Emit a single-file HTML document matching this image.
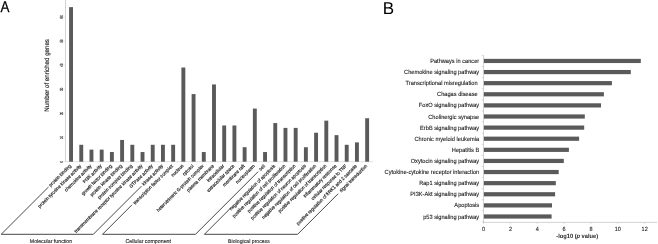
<!DOCTYPE html><html><head><meta charset="utf-8"><style>html,body{margin:0;padding:0;background:#fff;}svg{display:block;filter:grayscale(1);}text{font-family:"Liberation Sans",sans-serif;text-rendering:geometricPrecision;}</style></head><body>
<svg width="658" height="244" viewBox="0 0 658 244">
<defs><filter id="bl" x="-5%" y="-5%" width="110%" height="110%"><feGaussianBlur stdDeviation="0.28"/></filter></defs>
<rect width="658" height="244" fill="#fff"/>
<text transform="translate(0.55,11.50) scale(0.86,1.0)" text-anchor="start" font-size="15.6" fill="#000" stroke="#000" stroke-width="0.25">A</text>
<line x1="65.5" y1="0" x2="65.5" y2="161.7" stroke="#c8c8c8" stroke-width="0.8"/>
<line x1="65.5" y1="161.7" x2="373" y2="161.7" stroke="#d6d6d6" stroke-width="0.7"/>
<text transform="translate(62.50,161.70) rotate(-90) scale(0.8,1.25)" text-anchor="middle" font-size="3.6" fill="#333" stroke="#333" stroke-width="0.15">0</text>
<line x1="63.6" y1="161.70" x2="65.5" y2="161.70" stroke="#ddd" stroke-width="0.6"/>
<text transform="translate(62.50,137.55) rotate(-90) scale(0.8,1.25)" text-anchor="middle" font-size="3.6" fill="#333" stroke="#333" stroke-width="0.15">10</text>
<line x1="63.6" y1="137.55" x2="65.5" y2="137.55" stroke="#ddd" stroke-width="0.6"/>
<text transform="translate(62.50,113.40) rotate(-90) scale(0.8,1.25)" text-anchor="middle" font-size="3.6" fill="#333" stroke="#333" stroke-width="0.15">20</text>
<line x1="63.6" y1="113.40" x2="65.5" y2="113.40" stroke="#ddd" stroke-width="0.6"/>
<text transform="translate(62.50,89.25) rotate(-90) scale(0.8,1.25)" text-anchor="middle" font-size="3.6" fill="#333" stroke="#333" stroke-width="0.15">30</text>
<line x1="63.6" y1="89.25" x2="65.5" y2="89.25" stroke="#ddd" stroke-width="0.6"/>
<text transform="translate(62.50,65.10) rotate(-90) scale(0.8,1.25)" text-anchor="middle" font-size="3.6" fill="#333" stroke="#333" stroke-width="0.15">40</text>
<line x1="63.6" y1="65.10" x2="65.5" y2="65.10" stroke="#ddd" stroke-width="0.6"/>
<text transform="translate(62.50,40.95) rotate(-90) scale(0.8,1.25)" text-anchor="middle" font-size="3.6" fill="#333" stroke="#333" stroke-width="0.15">50</text>
<line x1="63.6" y1="40.95" x2="65.5" y2="40.95" stroke="#ddd" stroke-width="0.6"/>
<text transform="translate(62.50,16.80) rotate(-90) scale(0.8,1.25)" text-anchor="middle" font-size="3.6" fill="#333" stroke="#333" stroke-width="0.15">60</text>
<line x1="63.6" y1="16.80" x2="65.5" y2="16.80" stroke="#ddd" stroke-width="0.6"/>
<text transform="translate(49.20,75.35) rotate(-90) scale(1.0,1.06)" text-anchor="middle" font-size="6.17" fill="#1a1a1a" stroke="#1a1a1a" stroke-width="0.14">Number of enriched genes</text>
<rect x="69.10" y="7.14" width="3.9" height="154.56" fill="#5a5a5a"/>
<rect x="79.31" y="144.79" width="3.9" height="16.91" fill="#5a5a5a"/>
<rect x="89.52" y="149.62" width="3.9" height="12.07" fill="#5a5a5a"/>
<rect x="99.73" y="149.62" width="3.9" height="12.07" fill="#5a5a5a"/>
<rect x="109.94" y="152.04" width="3.9" height="9.66" fill="#5a5a5a"/>
<rect x="120.15" y="139.96" width="3.9" height="21.73" fill="#5a5a5a"/>
<rect x="130.36" y="144.79" width="3.9" height="16.91" fill="#5a5a5a"/>
<rect x="140.57" y="152.04" width="3.9" height="9.66" fill="#5a5a5a"/>
<rect x="150.78" y="144.79" width="3.9" height="16.91" fill="#5a5a5a"/>
<rect x="160.99" y="144.79" width="3.9" height="16.91" fill="#5a5a5a"/>
<rect x="171.20" y="144.79" width="3.9" height="16.91" fill="#5a5a5a"/>
<rect x="181.41" y="67.51" width="3.9" height="94.19" fill="#5a5a5a"/>
<rect x="191.62" y="94.08" width="3.9" height="67.62" fill="#5a5a5a"/>
<rect x="201.83" y="152.04" width="3.9" height="9.66" fill="#5a5a5a"/>
<rect x="212.04" y="84.42" width="3.9" height="77.28" fill="#5a5a5a"/>
<rect x="222.25" y="125.47" width="3.9" height="36.23" fill="#5a5a5a"/>
<rect x="232.46" y="125.47" width="3.9" height="36.23" fill="#5a5a5a"/>
<rect x="242.67" y="147.21" width="3.9" height="14.49" fill="#5a5a5a"/>
<rect x="252.88" y="108.57" width="3.9" height="53.13" fill="#5a5a5a"/>
<rect x="263.09" y="152.04" width="3.9" height="9.66" fill="#5a5a5a"/>
<rect x="273.30" y="123.06" width="3.9" height="38.64" fill="#5a5a5a"/>
<rect x="283.51" y="127.89" width="3.9" height="33.81" fill="#5a5a5a"/>
<rect x="293.72" y="127.89" width="3.9" height="33.81" fill="#5a5a5a"/>
<rect x="303.93" y="147.21" width="3.9" height="14.49" fill="#5a5a5a"/>
<rect x="314.14" y="132.72" width="3.9" height="28.98" fill="#5a5a5a"/>
<rect x="324.35" y="120.64" width="3.9" height="41.05" fill="#5a5a5a"/>
<rect x="334.56" y="135.13" width="3.9" height="26.57" fill="#5a5a5a"/>
<rect x="344.77" y="144.79" width="3.9" height="16.91" fill="#5a5a5a"/>
<rect x="354.98" y="142.38" width="3.9" height="19.32" fill="#5a5a5a"/>
<rect x="365.19" y="118.23" width="3.9" height="43.47" fill="#5a5a5a"/>
<g filter="url(#bl)">
<text transform="translate(71.45,166.30) rotate(-45) scale(1.0,1.08)" text-anchor="end" font-size="4.45" fill="#222" stroke="#222" stroke-width="0.16">protein binding</text>
<text transform="translate(81.66,166.30) rotate(-45) scale(1.0,1.08)" text-anchor="end" font-size="4.45" fill="#222" stroke="#222" stroke-width="0.16">protein tyrosine kinase activity</text>
<text transform="translate(91.87,166.30) rotate(-45) scale(1.0,1.08)" text-anchor="end" font-size="4.45" fill="#222" stroke="#222" stroke-width="0.16">chemokine activity</text>
<text transform="translate(102.08,166.30) rotate(-45) scale(1.0,1.08)" text-anchor="end" font-size="4.45" fill="#222" stroke="#222" stroke-width="0.16">PI3K activity</text>
<text transform="translate(112.29,166.30) rotate(-45) scale(1.0,1.08)" text-anchor="end" font-size="4.45" fill="#222" stroke="#222" stroke-width="0.16">growth factor binding</text>
<text transform="translate(122.50,166.30) rotate(-45) scale(1.0,1.08)" text-anchor="end" font-size="4.45" fill="#222" stroke="#222" stroke-width="0.16">protein kinase binding</text>
<text transform="translate(132.71,166.30) rotate(-45) scale(1.0,1.08)" text-anchor="end" font-size="4.45" fill="#222" stroke="#222" stroke-width="0.16">protein complex binding</text>
<text transform="translate(142.92,166.30) rotate(-45) scale(1.0,1.08)" text-anchor="end" font-size="4.45" fill="#222" stroke="#222" stroke-width="0.16">transmembrane receptor tyrosine kinase activity</text>
<text transform="translate(153.13,166.30) rotate(-45) scale(1.0,1.08)" text-anchor="end" font-size="4.45" fill="#222" stroke="#222" stroke-width="0.16">GTPase activity</text>
<text transform="translate(163.34,166.30) rotate(-45) scale(1.0,1.08)" text-anchor="end" font-size="4.45" fill="#222" stroke="#222" stroke-width="0.16">kinase activity</text>
<text transform="translate(173.55,166.30) rotate(-45) scale(1.0,1.08)" text-anchor="end" font-size="4.45" fill="#222" stroke="#222" stroke-width="0.16">transcription factor complex</text>
<text transform="translate(183.76,166.30) rotate(-45) scale(1.0,1.08)" text-anchor="end" font-size="4.45" fill="#222" stroke="#222" stroke-width="0.16">nucleus</text>
<text transform="translate(193.97,166.30) rotate(-45) scale(1.0,1.08)" text-anchor="end" font-size="4.45" fill="#222" stroke="#222" stroke-width="0.16">cytosol</text>
<text transform="translate(204.18,166.30) rotate(-45) scale(1.0,1.08)" text-anchor="end" font-size="4.45" fill="#222" stroke="#222" stroke-width="0.16">heterotrimeric G-protein complex</text>
<text transform="translate(214.39,166.30) rotate(-45) scale(1.0,1.08)" text-anchor="end" font-size="4.45" fill="#222" stroke="#222" stroke-width="0.16">plasma membrane</text>
<text transform="translate(224.60,166.30) rotate(-45) scale(1.0,1.08)" text-anchor="end" font-size="4.45" fill="#222" stroke="#222" stroke-width="0.16">intracellular</text>
<text transform="translate(234.81,166.30) rotate(-45) scale(1.0,1.08)" text-anchor="end" font-size="4.45" fill="#222" stroke="#222" stroke-width="0.16">extracellular space</text>
<text transform="translate(245.02,166.30) rotate(-45) scale(1.0,1.08)" text-anchor="end" font-size="4.45" fill="#222" stroke="#222" stroke-width="0.16">membrane raft</text>
<text transform="translate(255.23,166.30) rotate(-45) scale(1.0,1.08)" text-anchor="end" font-size="4.45" fill="#222" stroke="#222" stroke-width="0.16">nucleoplasm</text>
<text transform="translate(265.44,166.30) rotate(-45) scale(1.0,1.08)" text-anchor="end" font-size="4.45" fill="#222" stroke="#222" stroke-width="0.16">cell</text>
<text transform="translate(275.65,166.30) rotate(-45) scale(1.0,1.08)" text-anchor="end" font-size="4.45" fill="#222" stroke="#222" stroke-width="0.16">negative regulation of apoptosis</text>
<text transform="translate(285.86,166.30) rotate(-45) scale(1.0,1.08)" text-anchor="end" font-size="4.45" fill="#222" stroke="#222" stroke-width="0.16">positive regulation of cell proliferation</text>
<text transform="translate(296.07,166.30) rotate(-45) scale(1.0,1.08)" text-anchor="end" font-size="4.45" fill="#222" stroke="#222" stroke-width="0.16">positive regulation of transcription</text>
<text transform="translate(306.28,166.30) rotate(-45) scale(1.0,1.08)" text-anchor="end" font-size="4.45" fill="#222" stroke="#222" stroke-width="0.16">positive regulation of neuron apoptosis</text>
<text transform="translate(316.49,166.30) rotate(-45) scale(1.0,1.08)" text-anchor="end" font-size="4.45" fill="#222" stroke="#222" stroke-width="0.16">negative regulation of cell proliferation</text>
<text transform="translate(326.70,166.30) rotate(-45) scale(1.0,1.08)" text-anchor="end" font-size="4.45" fill="#222" stroke="#222" stroke-width="0.16">positive regulation of transcription</text>
<text transform="translate(336.91,166.30) rotate(-45) scale(1.0,1.08)" text-anchor="end" font-size="4.45" fill="#222" stroke="#222" stroke-width="0.16">inflammatory response</text>
<text transform="translate(347.12,166.30) rotate(-45) scale(1.0,1.08)" text-anchor="end" font-size="4.45" fill="#222" stroke="#222" stroke-width="0.16">cellular response to TNF</text>
<text transform="translate(357.33,166.30) rotate(-45) scale(1.0,1.08)" text-anchor="end" font-size="4.45" fill="#222" stroke="#222" stroke-width="0.16">positive regulation of ERK1 and 2 cascade</text>
<text transform="translate(367.54,166.30) rotate(-45) scale(1.0,1.08)" text-anchor="end" font-size="4.45" fill="#222" stroke="#222" stroke-width="0.16">signal transduction</text>
</g>
<polyline points="48.50,187.00 1.20,234.3 93.30,234.3 141.50,186.10" fill="none" stroke="#333333" stroke-width="0.9"/>
<polyline points="132.00,204.80 102.50,234.3 195.50,234.3 258.20,171.60" fill="none" stroke="#333333" stroke-width="0.9"/>
<polyline points="231.20,207.50 204.40,234.3 297.60,234.3 338.20,193.70" fill="none" stroke="#333333" stroke-width="0.9"/>
<text transform="translate(29.80,242.70) scale(1.0,1.06)" text-anchor="start" font-size="5.22" fill="#1a1a1a" stroke="#1a1a1a" stroke-width="0.1">Molecular function</text>
<text transform="translate(125.50,242.70) scale(1.0,1.06)" text-anchor="start" font-size="5.29" fill="#1a1a1a" stroke="#1a1a1a" stroke-width="0.1">Cellular component</text>
<text transform="translate(228.10,242.70) scale(1.0,1.06)" text-anchor="start" font-size="5.19" fill="#1a1a1a" stroke="#1a1a1a" stroke-width="0.1">Biological process</text>
<text transform="translate(382.80,13.80)" text-anchor="start" font-size="17.0" fill="#000" >B</text>
<line x1="483.5" y1="55.5" x2="483.5" y2="223.5" stroke="#c8c8c8" stroke-width="0.8"/>
<line x1="483.5" y1="222.4" x2="657" y2="222.4" stroke="#c8c8c8" stroke-width="0.8"/>
<line x1="481.8" y1="55.40" x2="483.5" y2="55.40" stroke="#c8c8c8" stroke-width="0.8"/>
<line x1="481.8" y1="66.50" x2="483.5" y2="66.50" stroke="#c8c8c8" stroke-width="0.8"/>
<line x1="481.8" y1="77.62" x2="483.5" y2="77.62" stroke="#c8c8c8" stroke-width="0.8"/>
<line x1="481.8" y1="88.72" x2="483.5" y2="88.72" stroke="#c8c8c8" stroke-width="0.8"/>
<line x1="481.8" y1="99.84" x2="483.5" y2="99.84" stroke="#c8c8c8" stroke-width="0.8"/>
<line x1="481.8" y1="110.94" x2="483.5" y2="110.94" stroke="#c8c8c8" stroke-width="0.8"/>
<line x1="481.8" y1="122.06" x2="483.5" y2="122.06" stroke="#c8c8c8" stroke-width="0.8"/>
<line x1="481.8" y1="133.16" x2="483.5" y2="133.16" stroke="#c8c8c8" stroke-width="0.8"/>
<line x1="481.8" y1="144.28" x2="483.5" y2="144.28" stroke="#c8c8c8" stroke-width="0.8"/>
<line x1="481.8" y1="155.38" x2="483.5" y2="155.38" stroke="#c8c8c8" stroke-width="0.8"/>
<line x1="481.8" y1="166.50" x2="483.5" y2="166.50" stroke="#c8c8c8" stroke-width="0.8"/>
<line x1="481.8" y1="177.60" x2="483.5" y2="177.60" stroke="#c8c8c8" stroke-width="0.8"/>
<line x1="481.8" y1="188.72" x2="483.5" y2="188.72" stroke="#c8c8c8" stroke-width="0.8"/>
<line x1="481.8" y1="199.83" x2="483.5" y2="199.83" stroke="#c8c8c8" stroke-width="0.8"/>
<line x1="481.8" y1="210.94" x2="483.5" y2="210.94" stroke="#c8c8c8" stroke-width="0.8"/>
<line x1="481.8" y1="222.04" x2="483.5" y2="222.04" stroke="#c8c8c8" stroke-width="0.8"/>
<line x1="483.50" y1="222.4" x2="483.50" y2="223.6" stroke="#c8c8c8" stroke-width="0.8"/>
<text transform="translate(483.60,230.60) scale(1.0,1.08)" text-anchor="middle" font-size="5.5" fill="#222" stroke="#222" stroke-width="0.1">0</text>
<line x1="510.34" y1="222.4" x2="510.34" y2="223.6" stroke="#c8c8c8" stroke-width="0.8"/>
<text transform="translate(510.44,230.60) scale(1.0,1.08)" text-anchor="middle" font-size="5.5" fill="#222" stroke="#222" stroke-width="0.1">2</text>
<line x1="537.18" y1="222.4" x2="537.18" y2="223.6" stroke="#c8c8c8" stroke-width="0.8"/>
<text transform="translate(537.28,230.60) scale(1.0,1.08)" text-anchor="middle" font-size="5.5" fill="#222" stroke="#222" stroke-width="0.1">4</text>
<line x1="564.02" y1="222.4" x2="564.02" y2="223.6" stroke="#c8c8c8" stroke-width="0.8"/>
<text transform="translate(564.12,230.60) scale(1.0,1.08)" text-anchor="middle" font-size="5.5" fill="#222" stroke="#222" stroke-width="0.1">6</text>
<line x1="590.86" y1="222.4" x2="590.86" y2="223.6" stroke="#c8c8c8" stroke-width="0.8"/>
<text transform="translate(590.96,230.60) scale(1.0,1.08)" text-anchor="middle" font-size="5.5" fill="#222" stroke="#222" stroke-width="0.1">8</text>
<line x1="617.70" y1="222.4" x2="617.70" y2="223.6" stroke="#c8c8c8" stroke-width="0.8"/>
<text transform="translate(617.80,230.60) scale(1.0,1.08)" text-anchor="middle" font-size="5.5" fill="#222" stroke="#222" stroke-width="0.1">10</text>
<line x1="644.54" y1="222.4" x2="644.54" y2="223.6" stroke="#c8c8c8" stroke-width="0.8"/>
<text transform="translate(644.64,230.60) scale(1.0,1.08)" text-anchor="middle" font-size="5.5" fill="#222" stroke="#222" stroke-width="0.1">12</text>
<rect x="483.9" y="58.85" width="156.90" height="4.2" fill="#5a5a5a"/>
<text transform="translate(479.20,63.00) scale(1.0,1.06)" text-anchor="end" font-size="5.66" fill="#111" xml:space="preserve" stroke="#111" stroke-width="0.08">Pathways in cancer</text>
<rect x="483.9" y="69.96" width="146.90" height="4.2" fill="#5a5a5a"/>
<text transform="translate(479.20,74.11) scale(1.0,1.06)" text-anchor="end" font-size="5.66" fill="#111" xml:space="preserve" stroke="#111" stroke-width="0.08">Chemokine signaling pathway</text>
<rect x="483.9" y="81.07" width="128.00" height="4.2" fill="#5a5a5a"/>
<text transform="translate(479.20,85.22) scale(1.0,1.06)" text-anchor="end" font-size="5.66" fill="#111" xml:space="preserve" stroke="#111" stroke-width="0.08">Transcriptional misregulation </text>
<rect x="483.9" y="92.18" width="120.00" height="4.2" fill="#5a5a5a"/>
<text transform="translate(479.20,96.33) scale(1.0,1.06)" text-anchor="end" font-size="5.66" fill="#111" xml:space="preserve" stroke="#111" stroke-width="0.08">Chagas disease </text>
<rect x="483.9" y="103.29" width="117.10" height="4.2" fill="#5a5a5a"/>
<text transform="translate(479.20,107.44) scale(1.0,1.06)" text-anchor="end" font-size="5.66" fill="#111" xml:space="preserve" stroke="#111" stroke-width="0.08">FoxO signaling pathway</text>
<rect x="483.9" y="114.40" width="100.90" height="4.2" fill="#5a5a5a"/>
<text transform="translate(479.20,118.55) scale(1.0,1.06)" text-anchor="end" font-size="5.66" fill="#111" xml:space="preserve" stroke="#111" stroke-width="0.08">Cholinergic synapse</text>
<rect x="483.9" y="125.51" width="100.30" height="4.2" fill="#5a5a5a"/>
<text transform="translate(479.20,129.66) scale(1.0,1.06)" text-anchor="end" font-size="5.66" fill="#111" xml:space="preserve" stroke="#111" stroke-width="0.08">ErbB signaling pathway</text>
<rect x="483.9" y="136.62" width="95.20" height="4.2" fill="#5a5a5a"/>
<text transform="translate(479.20,140.77) scale(1.0,1.06)" text-anchor="end" font-size="5.66" fill="#111" xml:space="preserve" stroke="#111" stroke-width="0.08">Chronic myeloid leukemia</text>
<rect x="483.9" y="147.73" width="85.00" height="4.2" fill="#5a5a5a"/>
<text transform="translate(479.20,151.88) scale(1.0,1.06)" text-anchor="end" font-size="5.66" fill="#111" xml:space="preserve" stroke="#111" stroke-width="0.08">Hepatitis B</text>
<rect x="483.9" y="158.84" width="79.90" height="4.2" fill="#5a5a5a"/>
<text transform="translate(479.20,162.99) scale(1.0,1.06)" text-anchor="end" font-size="5.66" fill="#111" xml:space="preserve" stroke="#111" stroke-width="0.08">Oxytocin signaling pathway</text>
<rect x="483.9" y="169.95" width="74.80" height="4.2" fill="#5a5a5a"/>
<text transform="translate(479.20,174.10) scale(1.0,1.06)" text-anchor="end" font-size="5.66" fill="#111" xml:space="preserve" stroke="#111" stroke-width="0.08">Cytokine-cytokine receptor interaction</text>
<rect x="483.9" y="181.06" width="71.90" height="4.2" fill="#5a5a5a"/>
<text transform="translate(479.20,185.21) scale(1.0,1.06)" text-anchor="end" font-size="5.66" fill="#111" xml:space="preserve" stroke="#111" stroke-width="0.08">Rap1 signaling pathway</text>
<rect x="483.9" y="192.17" width="71.20" height="4.2" fill="#5a5a5a"/>
<text transform="translate(479.20,196.32) scale(1.0,1.06)" text-anchor="end" font-size="5.66" fill="#111" xml:space="preserve" stroke="#111" stroke-width="0.08">PI3K-Akt signaling pathway</text>
<rect x="483.9" y="203.28" width="68.10" height="4.2" fill="#5a5a5a"/>
<text transform="translate(479.20,207.43) scale(1.0,1.06)" text-anchor="end" font-size="5.66" fill="#111" xml:space="preserve" stroke="#111" stroke-width="0.08">Apoptosis</text>
<rect x="483.9" y="214.39" width="67.70" height="4.2" fill="#5a5a5a"/>
<text transform="translate(479.20,218.54) scale(1.0,1.06)" text-anchor="end" font-size="5.66" fill="#111" xml:space="preserve" stroke="#111" stroke-width="0.08">p53 signaling pathway</text>
<text transform="translate(577.20,237.80) scale(1.0,1.06)" text-anchor="middle" font-size="5.7" fill="#222" font-weight="bold">-log10 (<tspan font-style="italic">p</tspan> value)</text>
</svg></body></html>
